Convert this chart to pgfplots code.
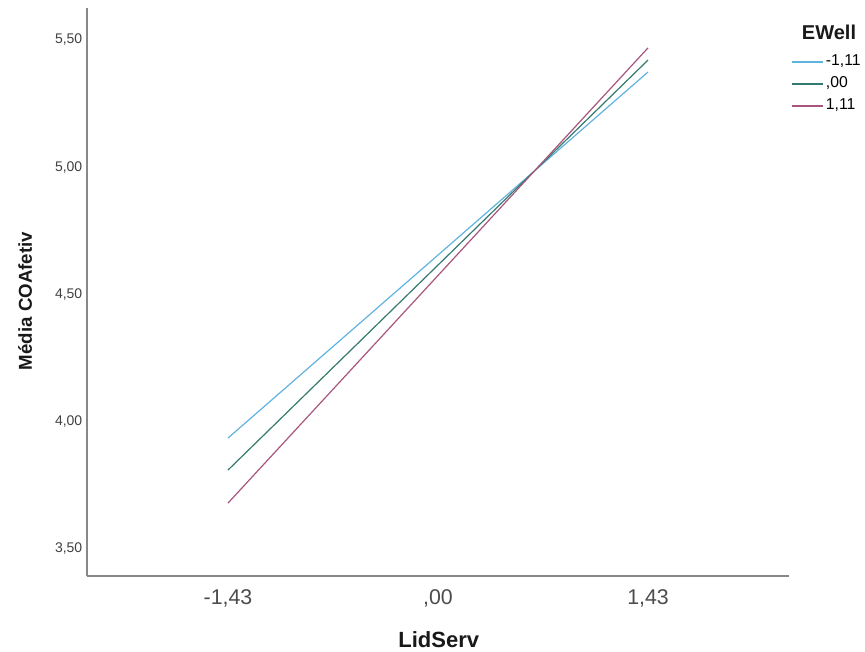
\documentclass[border=0pt]{standalone}
\usepackage{pgfplots}
\pgfplotsset{compat=1.18}
\usepackage{fontspec}
\setmainfont{Liberation Sans}
\definecolor{cblue}{HTML}{5FB3DF}
\definecolor{cteal}{HTML}{357A6E}
\definecolor{cpink}{HTML}{A8557D}
\definecolor{spine}{HTML}{888888}
\begin{document}
\begin{tikzpicture}
\path[use as bounding box] (0,0) rectangle (648.75pt,488.25pt);
\begin{axis}[
 at={(65.25pt,56.25pt)}, anchor=south west,
 scale only axis, width=526.5pt, height=426pt,
 xmin=-2.39, xmax=2.39, ymin=3.39, ymax=5.626,
 clip=false,
 axis x line*=bottom, axis y line*=left,
 axis line style={draw=spine, line width=0.9pt, -},
 xtick={-1.43,0,1.43}, xticklabels={{-1,43},{,00},{1,43}},
 ytick={3.5,4,4.5,5,5.5}, yticklabels={{3,50},{4,00},{4,50},{5,00},{5,50}},
 major tick length=0pt,
 x tick label style={font=\fontsize{16}{16}\selectfont, text=black!70, yshift=-7pt},
 y tick label style={font=\fontsize{10.5}{10.5}\selectfont, text=black!75},
 xlabel={LidServ}, ylabel={Média COAfetiv},
 xlabel style={at={(axis description cs:0.501,-0.1127)}, anchor=center, font=\fontsize{16.5}{16.5}\selectfont\bfseries, text=black!90},
 ylabel style={at={(axis description cs:-0.0883,0.484)}, anchor=center, font=\fontsize{14}{14}\selectfont\bfseries, text=black!90},
 legend style={at={(rel axis cs:1.003,0.919)}, anchor=north west, draw=none, fill=none,
   font=\fontsize{11.8}{11.8}\selectfont, inner sep=0pt, row sep=5pt,
   nodes={inner sep=0pt, text height=8.5pt, text depth=3pt},
   /tikz/every odd column/.append style={column sep=2pt}},
 legend cell align=left,
 legend image code/.code={\draw[#1] (0pt,0pt) -- (23pt,0pt);},
]
\addplot[cblue, line width=0.9pt] coordinates {(-1.43,3.933) (1.43,5.374)};
\addlegendentry{-1,11}
\addplot[cteal, line width=0.9pt] coordinates {(-1.43,3.807) (1.43,5.421)};
\addlegendentry{,00}
\addplot[cpink, line width=0.9pt] coordinates {(-1.43,3.677) (1.43,5.469)};
\addlegendentry{1,11}
\node[font=\fontsize{15}{15}\selectfont\bfseries, text=black!90] at (rel axis cs:1.057,0.958) {EWell};
\end{axis}
\end{tikzpicture}
\end{document}
